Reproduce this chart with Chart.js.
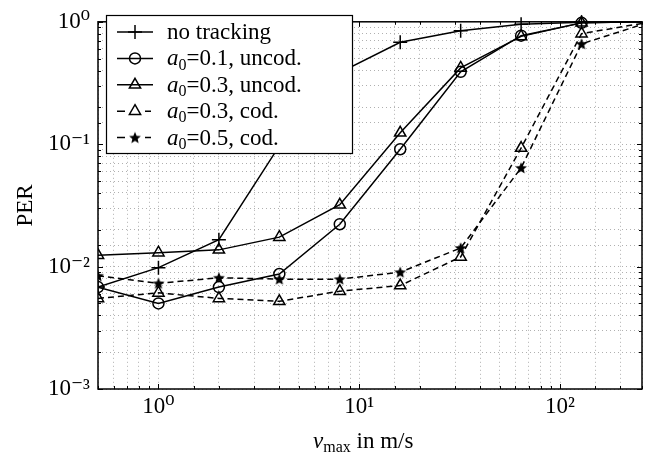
<!DOCTYPE html>
<html>
<head>
<meta charset="utf-8">
<script src="https://cdn.jsdelivr.net/npm/chart.js@4.4.1/dist/chart.umd.min.js"></script>
<style>
html,body{margin:0;padding:0;background:#fff;}
#wrap{width:656px;height:461px;}
</style>
</head>
<body>
<div id="wrap"><canvas id="c" width="656" height="461"></canvas></div>
<script>
// ---- data ----
const vmax = [0.5, 1, 2, 4, 8, 16, 32, 64, 128, 256];
const seriesNames = ['no tracking', 'a₀=0.1, uncod.', 'a₀=0.3, uncod.', 'a₀=0.3, cod.', 'a₀=0.5, cod.'];
const perNoTracking = [0.0068, 0.0098, 0.0166, 0.097, 0.385, 0.68, 0.845, 0.955, 0.99, 1.0];
const perA01Uncod   = [0.0068, 0.0050, 0.0068, 0.0087, 0.0222, 0.091, 0.39, 0.77, 0.98, 1.0];
const perA03Uncod   = [0.0124, 0.0130, 0.0137, 0.0174, 0.032, 0.124, 0.42, 0.76, 0.98, 1.0];
const perA03Cod     = [0.0055, 0.0061, 0.0055, 0.0052, 0.0063, 0.0070, 0.0120, 0.093, 0.80, 0.97];
const perA05Cod     = [0.0084, 0.0073, 0.0081, 0.0079, 0.0079, 0.0090, 0.0142, 0.064, 0.66, 0.95];
const xTickPowers = [0, 1, 2];
const yTickPowers = [-3, -2, -1, 0];

const SERIF = '"Liberation Serif", "DejaVu Serif", serif';
const SUP = {'0':'⁰','1':'¹','2':'²','3':'³','-':'⁻'};
function powLabel(p){ return '10' + String(p).split('').map(c => SUP[c]).join(''); }
function isPow(v, list){
  const l = Math.log10(v), r = Math.round(l);
  return Math.abs(l - r) < 1e-9 && list.includes(r) ? r : null;
}

// star marker
function makeStar(){
  const s = 14, c = document.createElement('canvas');
  c.width = s; c.height = s;
  const g = c.getContext('2d');
  g.fillStyle = '#000';
  g.beginPath();
  for (let i = 0; i < 10; i++){
    const r = i % 2 === 0 ? 6.2 : 2.8;
    const a = -Math.PI/2 + i*Math.PI/5;
    const x = s/2 + r*Math.cos(a), y = s/2 + r*Math.sin(a) + 0.5;
    i ? g.lineTo(x,y) : g.moveTo(x,y);
  }
  g.closePath(); g.fill();
  return c;
}
const starImg = makeStar();

function mk(label, data, style, radius, dashed){
  return {
    label, data: vmax.map((x,i)=>({x, y:data[i]})),
    borderColor:'#000', backgroundColor:'rgba(0,0,0,0)',
    borderWidth:1.5, borderDash: dashed ? [6,4] : [],
    pointStyle: style,
    pointRadius: c => (c.dataIndex === vmax.length - 1 ? 0 : radius),
    legendRadius: radius,
    pointBorderWidth:1.5,
    pointBorderColor:'#000', pointBackgroundColor:'rgba(0,0,0,0)',
    tension:0, fill:false,
    clip:{ left:0, right:0, bottom:0, top:8 }
  };
}

const datasets = [
  mk(seriesNames[0], perNoTracking, 'cross', 7, false),
  mk(seriesNames[1], perA01Uncod, 'circle', 5.5, false),
  mk(seriesNames[2], perA03Uncod, 'triangle', 6.5, false),
  mk(seriesNames[3], perA03Cod, 'triangle', 6.5, true),
  mk(seriesNames[4], perA05Cod, starImg, 6, true),
];

function drawLabel(ctx, text, x, y, size){
  ctx.textBaseline = 'alphabetic';
  ctx.textAlign = 'left';
  if (text.startsWith('a₀')){
    ctx.font = 'italic ' + size + 'px ' + SERIF;
    ctx.fillText('a', x, y);
    x += ctx.measureText('a').width;
    ctx.font = Math.round(size*0.7) + 'px ' + SERIF;
    ctx.fillText('0', x, y + size*0.18);
    x += ctx.measureText('0').width;
    ctx.font = size + 'px ' + SERIF;
    ctx.fillText(text.slice(2), x, y);
  } else {
    ctx.font = size + 'px ' + SERIF;
    ctx.fillText(text, x, y);
  }
}

const decorPlugin = {
  id:'decor',
  afterDatasetsDraw(chart){
    const ctx = chart.ctx, a = chart.chartArea;
    const xs = chart.scales.x, ys = chart.scales.y;
    ctx.save();
    // inner tick marks
    ctx.strokeStyle = '#000'; ctx.lineWidth = 1; ctx.setLineDash([]);
    xs.ticks.forEach(t => {
      const px = Math.round(xs.getPixelForValue(t.value)) + 0.5;
      const L = isPow(t.value, [-5,-4,-3,-2,-1,0,1,2,3]) !== null ? 5 : 3;
      ctx.beginPath();
      ctx.moveTo(px, a.bottom); ctx.lineTo(px, a.bottom - L);
      ctx.moveTo(px, a.top); ctx.lineTo(px, a.top + L);
      ctx.stroke();
    });
    ys.ticks.forEach(t => {
      const py = Math.round(ys.getPixelForValue(t.value)) + 0.5;
      const L = isPow(t.value, [-5,-4,-3,-2,-1,0,1,2,3]) !== null ? 5 : 3;
      ctx.beginPath();
      ctx.moveTo(a.left, py); ctx.lineTo(a.left + L, py);
      ctx.moveTo(a.right, py); ctx.lineTo(a.right - L, py);
      ctx.stroke();
    });
    // frame
    ctx.lineWidth = 1.5;
    ctx.strokeRect(a.left, a.top, a.right - a.left, a.bottom - a.top);

    // legend
    const bx = 106, by = 15, bw = 246, bh = 138;
    ctx.fillStyle = '#fff';
    ctx.fillRect(bx, by, bw, bh);
    ctx.lineWidth = 1.2;
    ctx.strokeStyle = '#000';
    ctx.strokeRect(bx + 0.5, by + 0.5, bw, bh);
    chart.data.datasets.forEach((ds, i) => {
      const y = 32 + i * 26.4;
      ctx.strokeStyle = '#000';
      ctx.lineWidth = 1.5;
      ctx.setLineDash([]);
      ctx.beginPath();
      if (ds.borderDash && ds.borderDash.length){
        ctx.moveTo(117, y); ctx.lineTo(125, y);
        ctx.moveTo(145, y); ctx.lineTo(151, y);
      } else {
        ctx.moveTo(117, y); ctx.lineTo(153, y);
      }
      ctx.stroke();
      ctx.fillStyle = 'rgba(0,0,0,0)';
      Chart.helpers.drawPoint(ctx, {
        pointStyle: ds.pointStyle, radius: ds.legendRadius, borderWidth: 1.5, rotation: 0
      }, 135, y);
      ctx.fillStyle = '#000';
      drawLabel(ctx, ds.label, 167, y + 7, 23);
    });

    // x axis title: v_max in m/s
    ctx.fillStyle = '#000';
    let x = 313, yb = 448;
    ctx.font = 'italic 23px ' + SERIF;
    ctx.textBaseline = 'alphabetic'; ctx.textAlign = 'left';
    ctx.fillText('v', x, yb); x += ctx.measureText('v').width;
    ctx.font = '16px ' + SERIF;
    ctx.fillText('max', x, yb + 4); x += ctx.measureText('max').width;
    ctx.font = '23px ' + SERIF;
    ctx.fillText(' in m/s', x, yb);
    ctx.restore();
  }
};

new Chart(document.getElementById('c'), {
  type:'line',
  data:{ datasets },
  plugins:[decorPlugin],
  options:{
    responsive:false, animation:false,
    layout:{ padding:{ left:0, right:14, top:12, bottom:0 } },
    plugins:{ legend:{ display:false }, tooltip:{ enabled:false } },
    scales:{
      x:{
        type:'logarithmic', min:0.5, max:256,
        border:{ display:false, dash:[1,3] },
        grid:{ color:'#b0b0b0', lineWidth:1, drawTicks:false },
        ticks:{
          autoSkip:false, maxRotation:0, padding:4,
          color:'#000', font:{ family:SERIF, size:23 },
          callback(v){ const p = isPow(v, xTickPowers); return p === null ? '' : powLabel(p); }
        },
        afterFit(s){ s.height = 72; }
      },
      y:{
        type:'logarithmic', min:0.001, max:1,
        border:{ display:false, dash:[1,3] },
        grid:{ color:'#b0b0b0', lineWidth:1, drawTicks:false },
        title:{ display:true, text:'PER', color:'#000', font:{ family:SERIF, size:23 }, padding:{ top:12, bottom:0 } },
        ticks:{
          autoSkip:false, padding:8,
          color:'#000', font:{ family:SERIF, size:23 },
          callback(v){ const p = isPow(v, yTickPowers); return p === null ? '' : powLabel(p); }
        },
        afterFit(s){ s.width = 98; }
      }
    }
  }
});
</script>
</body>
</html>
